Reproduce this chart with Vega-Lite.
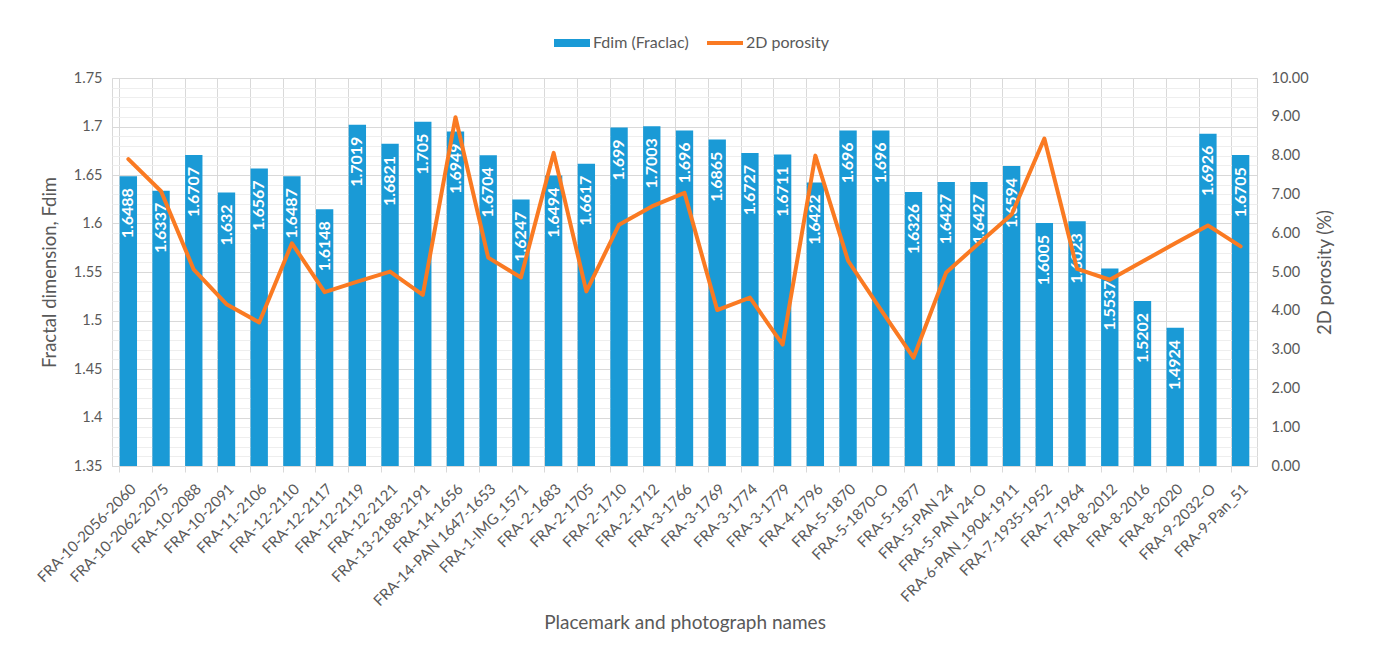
{
  "$schema": "https://vega.github.io/schema/vega-lite/v6.json",
  "width": 1145,
  "height": 388,
  "autosize": {"type": "none"},
  "padding": {"left": 112, "top": 78, "right": 116, "bottom": 187},
  "background": "white",
  "config": {
    "font": "Lato",
    "view": {"stroke": "#D9D9D9"},
    "axis": {"labelFont": "Lato", "titleFont": "Lato", "labelColor": "#595959", "titleColor": "#595959", "titleFontWeight": "normal"}
  },
  "data": {
    "values": [
      {"name": "FRA-10-2056-2060", "fdim": 1.6488, "porosity": 7.91},
      {"name": "FRA-10-2062-2075", "fdim": 1.6337, "porosity": 7.08},
      {"name": "FRA-10-2088", "fdim": 1.6707, "porosity": 5.06},
      {"name": "FRA-10-2091", "fdim": 1.632, "porosity": 4.17},
      {"name": "FRA-11-2106", "fdim": 1.6567, "porosity": 3.7},
      {"name": "FRA-12-2110", "fdim": 1.6487, "porosity": 5.74},
      {"name": "FRA-12-2117", "fdim": 1.6148, "porosity": 4.48},
      {"name": "FRA-12-2119", "fdim": 1.7019, "porosity": 4.75},
      {"name": "FRA-12-2121", "fdim": 1.6821, "porosity": 5.01},
      {"name": "FRA-13-2188-2191", "fdim": 1.705, "porosity": 4.41},
      {"name": "FRA-14-1656", "fdim": 1.6949, "porosity": 8.99},
      {"name": "FRA-14-PAN 1647-1653", "fdim": 1.6704, "porosity": 5.37},
      {"name": "FRA-1-IMG_1571", "fdim": 1.6247, "porosity": 4.86},
      {"name": "FRA-2-1683", "fdim": 1.6494, "porosity": 8.07},
      {"name": "FRA-2-1705", "fdim": 1.6617, "porosity": 4.5},
      {"name": "FRA-2-1710", "fdim": 1.699, "porosity": 6.22},
      {"name": "FRA-2-1712", "fdim": 1.7003, "porosity": 6.69},
      {"name": "FRA-3-1766", "fdim": 1.696, "porosity": 7.04},
      {"name": "FRA-3-1769", "fdim": 1.6865, "porosity": 4.02},
      {"name": "FRA-3-1774", "fdim": 1.6727, "porosity": 4.34},
      {"name": "FRA-3-1779", "fdim": 1.6711, "porosity": 3.13},
      {"name": "FRA-4-1796", "fdim": 1.6422, "porosity": 8.0},
      {"name": "FRA-5-1870", "fdim": 1.696, "porosity": 5.29},
      {"name": "FRA-5-1870-O", "fdim": 1.696, "porosity": 4.03},
      {"name": "FRA-5-1877", "fdim": 1.6326, "porosity": 2.79},
      {"name": "FRA-5-PAN 24", "fdim": 1.6427, "porosity": 4.99},
      {"name": "FRA-5-PAN 24-O", "fdim": 1.6427, "porosity": 5.74},
      {"name": "FRA-6-PAN_1904-1911", "fdim": 1.6594, "porosity": 6.48},
      {"name": "FRA-7-1935-1952", "fdim": 1.6005, "porosity": 8.44},
      {"name": "FRA-7-1964", "fdim": 1.6023, "porosity": 5.08},
      {"name": "FRA-8-2012", "fdim": 1.5537, "porosity": 4.8},
      {"name": "FRA-8-2016", "fdim": 1.5202, "porosity": 5.27},
      {"name": "FRA-8-2020", "fdim": 1.4924, "porosity": 5.74},
      {"name": "FRA-9-2032-O", "fdim": 1.6926, "porosity": 6.2},
      {"name": "FRA-9-Pan_51", "fdim": 1.6705, "porosity": 5.66}
    ]
  },
  "layer": [
    {
      "encoding": {
        "x": {
          "field": "name", "type": "nominal", "sort": null,
          "scale": {"paddingInner": 0.47, "paddingOuter": 0.235},
          "axis": {
            "orient": "bottom", "bandPosition": 0, "labels": false, "title": null,
            "ticks": true, "tickSize": 6, "tickColor": "#D9D9D9", "domain": true, "domainColor": "#D9D9D9",
            "grid": true, "gridColor": "#D9D9D9"
          }
        },
        "y": {
          "field": "fdim", "type": "quantitative",
          "scale": {"domain": [1.35, 1.75], "zero": false, "nice": false},
          "axis": {
            "orient": "left",
            "title": "Fractal dimension, Fdim", "titleFontSize": 18.5, "titlePadding": 14,
            "values": [1.35,1.36,1.37,1.38,1.39,1.4,1.41,1.42,1.43,1.44,1.45,1.46,1.47,1.48,1.49,1.5,1.51,1.52,1.53,1.54,1.55,1.56,1.57,1.58,1.59,1.6,1.61,1.62,1.63,1.64,1.65,1.66,1.67,1.68,1.69,1.7,1.71,1.72,1.73,1.74,1.75],
            "labelExpr": "round(datum.value*100) % 5 == 0 ? format(datum.value, '~g') : ''",
            "labelFontSize": 14.5, "labelPadding": 10, "labelOverlap": false,
            "ticks": false, "domain": false, "grid": true,
            "gridColor": {"condition": {"test": "round(datum.value*100) % 5 == 0", "value": "#D9D9D9"}, "value": "#EEEEEE"}
          }
        }
      },
      "layer": [
        {
          "mark": {"type": "bar", "color": "#1A9AD6"},
          "encoding": {
            "y2": {"datum": 1.35},
            "color": {
              "datum": "Fdim (Fraclac)",
              "scale": {"domain": ["Fdim (Fraclac)", "2D porosity"], "range": ["#1A9AD6", "#FA7A22"]},
              "legend": {
                "orient": "none", "legendX": 452, "legendY": -43, "direction": "horizontal",
                "title": null, "padding": 0, "labelFont": "Lato", "labelFontSize": 16, "labelColor": "#595959",
                "symbolSize": 1296, "labelOffset": 13, "columnPadding": 10,
                "encode": {
                  "symbols": {
                    "update": {
                      "shape": {"signal": "datum.value === '2D porosity' ? 'M-1,0H1' : 'M-1,-0.22H1V0.22H-1Z'"},
                      "fill": {"signal": "datum.value === '2D porosity' ? 'transparent' : '#1A9AD6'"},
                      "stroke": {"signal": "datum.value === '2D porosity' ? '#FA7A22' : '#1A9AD6'"},
                      "strokeWidth": {"signal": "datum.value === '2D porosity' ? 4 : 0"},
                      "opacity": {"value": 1}
                    }
                  }
                }
              }
            }
          }
        },
        {
          "mark": {"type": "text", "angle": 270, "align": "right", "baseline": "middle", "dx": -12, "color": "white", "fontWeight": "bold", "fontSize": 16, "font": "Lato"},
          "encoding": {
            "text": {"field": "fdim", "type": "nominal"}
          }
        }
      ]
    },
    {
      "mark": {"type": "line", "strokeWidth": 4, "color": "#FA7A22", "strokeJoin": "round", "strokeCap": "round"},
      "encoding": {
        "x": {
          "field": "name", "type": "nominal", "sort": null,
          "axis": {
            "orient": "bottom", "title": "Placemark and photograph names", "titleFontSize": 19, "titlePadding": 5,
            "labelAngle": -45, "labelFontSize": 15, "labelPadding": 15, "labelOverlap": false,
            "ticks": false, "domain": false, "grid": false
          }
        },
        "y": {
          "field": "porosity", "type": "quantitative",
          "scale": {"domain": [0, 10], "nice": false},
          "axis": {
            "orient": "right", "title": "2D porosity (%)", "titleFontSize": 18.5, "titleAngle": 270, "titlePadding": 26,
            "values": [0,1,2,3,4,5,6,7,8,9,10], "format": ".2f",
            "labelFontSize": 14.5, "labelPadding": 14, "ticks": false, "domain": false, "grid": false
          }
        },
        "color": {"datum": "2D porosity"}
      }
    }
  ],
  "resolve": {"scale": {"y": "independent"}, "axis": {"x": "independent", "y": "independent"}}
}
